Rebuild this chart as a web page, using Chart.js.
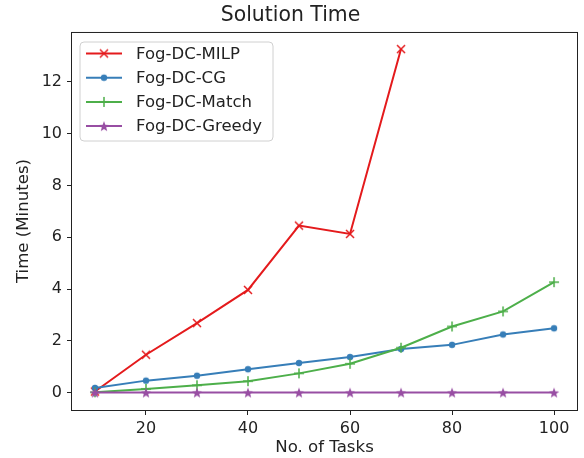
<!DOCTYPE html>
<html>
<head>
<meta charset="utf-8">
<script src="https://cdn.jsdelivr.net/npm/chart.js@4.4.0/dist/chart.umd.min.js"></script>
<style>
  html, body { margin: 0; padding: 0; background: #fff; }
</style>
</head>
<body>
<canvas id="timeChart" width="584" height="458"></canvas>
<script>
// values
var tasks = [10, 20, 30, 40, 50, 60, 70, 80, 90, 100];
var milpTimes = [0.05, 1.47, 2.69, 3.97, 6.45, 6.13, 13.26];
var cgTimes = [0.19, 0.47, 0.66, 0.91, 1.15, 1.38, 1.69, 1.85, 2.25, 2.49];
var matchTimes = [0.02, 0.15, 0.29, 0.45, 0.75, 1.12, 1.74, 2.56, 3.14, 4.27];
var greedyTimes = [0.01, 0.01, 0.01, 0.01, 0.01, 0.01, 0.01, 0.01, 0.01, 0.01];
var seriesNames = ['Fog-DC-MILP', 'Fog-DC-CG', 'Fog-DC-Match', 'Fog-DC-Greedy'];
var xTicks = [20, 40, 60, 80, 100];
var yTicks = [0, 2, 4, 6, 8, 10, 12];

var colors = ['#e41a1c', '#377eb8', '#4daf4a', '#984ea3'];
var axisColor = '#222';

Chart.defaults.font.family = 'DejaVu Sans';
Chart.defaults.color = axisColor;

// matplotlib-like markers as small canvases
function makeMarker(kind, color) {
    var c = document.createElement('canvas');
    c.width = 16;
    c.height = 16;
    var g = c.getContext('2d');
    var m = 8;
    g.strokeStyle = color;
    g.fillStyle = color;
    g.lineWidth = 1.5;
    g.beginPath();
    if (kind === 'x') {
        g.moveTo(m - 4, m - 4); g.lineTo(m + 4, m + 4);
        g.moveTo(m - 4, m + 4); g.lineTo(m + 4, m - 4);
        g.stroke();
    } else if (kind === '+') {
        g.moveTo(m - 5, m); g.lineTo(m + 5, m);
        g.moveTo(m, m - 5); g.lineTo(m, m + 5);
        g.stroke();
    } else if (kind === '.') {
        g.arc(m, m, 3.2, 0, Math.PI * 2);
        g.fill();
    } else {
        for (var i = 0; i < 10; i++) {
            var r = i % 2 === 0 ? 5.5 : 2.3;
            var a = -Math.PI / 2 + i * Math.PI / 5;
            var px = m + r * Math.cos(a), py = m + 0.6 + r * Math.sin(a);
            if (i === 0) g.moveTo(px, py); else g.lineTo(px, py);
        }
        g.closePath();
        g.fill();
    }
    return c;
}

var markers = [
    makeMarker('x', colors[0]),
    makeMarker('.', colors[1]),
    makeMarker('+', colors[2]),
    makeMarker('*', colors[3])
];

function toPoints(values) {
    return values.map(function (v, i) {
        return { x: tasks[i], y: v };
    });
}

function makeDataset(idx, values) {
    return {
        label: seriesNames[idx],
        data: toPoints(values),
        borderColor: colors[idx],
        backgroundColor: colors[idx],
        borderWidth: 2,
        pointStyle: markers[idx],
        pointRadius: 5,
        tension: 0,
        fill: false,
        order: 3 - idx
    };
}

// frame all four sides + legend box inside the plot
var framePlugin = {
    id: 'frame',
    afterDatasetsDraw: function (chart) {
        var ctx = chart.ctx;
        var a = chart.chartArea;
        ctx.save();
        ctx.strokeStyle = axisColor;
        ctx.lineWidth = 1;
        ctx.strokeRect(a.left - 0.5, a.top + 0.5, a.right - a.left + 1, a.bottom - a.top);

        // legend
        var bx = 80, by = 42, bw = 193, bh = 99, r = 4;
        ctx.beginPath();
        ctx.moveTo(bx + r, by);
        ctx.arcTo(bx + bw, by, bx + bw, by + bh, r);
        ctx.arcTo(bx + bw, by + bh, bx, by + bh, r);
        ctx.arcTo(bx, by + bh, bx, by, r);
        ctx.arcTo(bx, by, bx + bw, by, r);
        ctx.closePath();
        ctx.fillStyle = 'rgba(255,255,255,0.8)';
        ctx.fill();
        ctx.strokeStyle = '#d0d0d0';
        ctx.stroke();

        ctx.font = '16.5px "DejaVu Sans"';
        ctx.textBaseline = 'middle';
        for (var i = 0; i < seriesNames.length; i++) {
            var y = 53.5 + i * 24.2;
            ctx.strokeStyle = colors[i];
            ctx.lineWidth = 2;
            ctx.beginPath();
            ctx.moveTo(86, y);
            ctx.lineTo(122, y);
            ctx.stroke();
            ctx.drawImage(markers[i], 104 - 8, y - 8);
            ctx.fillStyle = axisColor;
            ctx.fillText(seriesNames[i], 136, y + 1);
        }
        ctx.restore();
    }
};

var ctx = document.getElementById('timeChart').getContext('2d');

var myChart = new Chart(ctx, {
    type: 'line',
    data: {
        datasets: [
            makeDataset(0, milpTimes),
            makeDataset(1, cgTimes),
            makeDataset(2, matchTimes),
            makeDataset(3, greedyTimes)
        ]
    },
    options: {
        responsive: false,
        animation: false,
        layout: { padding: { left: 0, right: 3, top: 0, bottom: 0 } },
        plugins: {
            legend: { display: false },
            tooltip: { enabled: false },
            title: {
                display: true,
                text: 'Solution Time',
                color: axisColor,
                font: { size: 20.4, weight: 'normal' },
                padding: { top: 3, bottom: 4.5 }
            }
        },
        scales: {
            x: {
                type: 'linear',
                min: 5.5,
                max: 104.5,
                afterBuildTicks: function (scale) {
                    scale.ticks = xTicks.map(function (v) { return { value: v }; });
                },
                afterFit: function (scale) { scale.height = 48; },
                border: { display: false },
                grid: { drawOnChartArea: false, drawTicks: true, tickLength: 5, color: axisColor },
                ticks: { font: { size: 16 }, color: axisColor, padding: 4, maxRotation: 0, autoSkip: false },
                title: {
                    display: true,
                    text: 'No. of Tasks',
                    color: axisColor,
                    font: { size: 16.6 },
                    padding: { top: 0.5, bottom: 0.5 }
                }
            },
            y: {
                type: 'linear',
                min: -0.663,
                max: 13.92,
                afterBuildTicks: function (scale) {
                    scale.ticks = yTicks.map(function (v) { return { value: v }; });
                },
                afterFit: function (scale) { scale.width = 72; },
                border: { display: false },
                grid: { drawOnChartArea: false, drawTicks: true, tickLength: 5, color: axisColor },
                ticks: { font: { size: 16 }, color: axisColor, padding: 5 },
                title: {
                    display: true,
                    text: 'Time (Minutes)',
                    color: axisColor,
                    font: { size: 16.6 },
                    padding: { top: 14, bottom: 14 }
                }
            }
        }
    },
    plugins: [framePlugin]
});
</script>
</body>
</html>
